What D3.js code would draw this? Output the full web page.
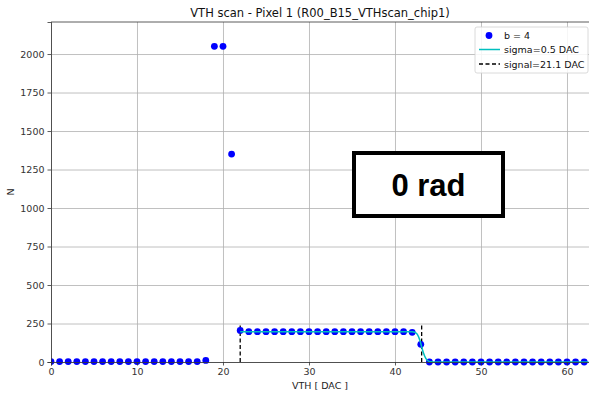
<!DOCTYPE html>
<html>
<head>
<meta charset="utf-8">
<script src="https://cdn.jsdelivr.net/npm/d3@7"></script>
<style>
  body { margin: 0; background: #fff; }
  text { font-family: "DejaVu Sans", sans-serif; }
  .grid line { stroke: #b0b0b0; stroke-width: 0.8; }
  .grid .domain { display: none; }
</style>
</head>
<body>
<div id="container"></div>
<script>
// scan points (VTH in DAC, counts N)
var vth = d3.range(0, 63);
var counts = [3, 3, 3, 3, 3, 3, 3, 3, 3, 3,
              3, 3, 3, 3, 3, 3, 3, 3, 10, 2050,
              2050, 1350, 205, 197, 197, 197, 197, 197, 197, 197,
              197, 197, 197, 197, 197, 197, 197, 197, 197, 197,
              197, 197, 193, 115, 0, 0, 0, 0, 0, 0,
              0, 0, 0, 0, 0, 0, 0, 0, 0, 0,
              0, 0, 0];

// fitted s-curve
var fitX = [22, 42, 42.3, 42.6, 42.9, 43.1, 43.3, 43.6, 43.9, 44.2, 44.5, 62.5];
var fitY = [197, 197, 193, 180, 140, 98, 60, 22, 6, 1, 0, 0];

// signal edges
var edges = [22, 43.1];
var edgeTop = 250;

var xTicks = [0, 10, 20, 30, 40, 50, 60];
var yTicks = [0, 250, 500, 750, 1000, 1250, 1500, 1750, 2000];
var legendLabels = ["b = 4", "sigma=0.5 DAC", "signal=21.1 DAC"];

var margin = {top: 22, right: 0, bottom: 32, left: 51},
    W = 589, H = 394,
    width = W - margin.left - margin.right,
    height = H - margin.top - margin.bottom;

var xScale = d3.scaleLinear().domain([0, 62.56]).range([0, width]);
var yScale = d3.scaleLinear().domain([0, 2208]).range([height, 0]);

var svg = d3.select("#container").append("svg")
    .attr("width", W).attr("height", H);

var g = svg.append("g")
    .attr("transform", "translate(" + margin.left + "," + margin.top + ")");

svg.append("defs").append("clipPath").attr("id", "clip")
  .append("rect").attr("x", 0).attr("y", -5).attr("width", width).attr("height", height + 10);

// grid
g.append("g").attr("class", "grid")
  .attr("transform", "translate(0," + height + ")")
  .call(d3.axisBottom(xScale).tickValues(xTicks).tickSize(-height).tickFormat(""));
g.append("g").attr("class", "grid")
  .call(d3.axisLeft(yScale).tickValues(yTicks).tickSize(-width).tickFormat(""));

var plot = g.append("g").attr("clip-path", "url(#clip)");

// signal edges
plot.selectAll(".edge")
  .data(edges)
  .enter().append("line")
    .attr("class", "edge")
    .attr("x1", function(d) { return xScale(d); })
    .attr("x2", function(d) { return xScale(d); })
    .attr("y1", yScale(0))
    .attr("y2", yScale(edgeTop))
    .attr("stroke", "#000").attr("stroke-width", 1.3)
    .attr("stroke-dasharray", "4,2.5");

// data points
plot.selectAll(".pt")
  .data(vth)
  .enter().append("circle")
    .attr("class", "pt")
    .attr("cx", function(d) { return xScale(d); })
    .attr("cy", function(d, i) { return yScale(counts[i]); })
    .attr("r", 3.4)
    .attr("fill", "#0000ff");

// fit line
var line = d3.line()
  .x(function(d, i) { return xScale(fitX[i]); })
  .y(function(d) { return yScale(d); })
  .curve(d3.curveMonotoneX);
plot.append("path")
  .datum(fitY)
  .attr("d", line)
  .attr("fill", "none")
  .attr("stroke", "#00bfbf")
  .attr("stroke-width", 1.5);

// axes
var xAxis = g.append("g")
  .attr("transform", "translate(0," + height + ")")
  .call(d3.axisBottom(xScale).tickValues(xTicks).tickSize(3.5).tickPadding(3));
var yAxis = g.append("g")
  .call(d3.axisLeft(yScale).tickValues(yTicks).tickFormat(d3.format("d")).tickSize(3.5).tickPadding(3));
[xAxis, yAxis].forEach(function(a) {
  a.selectAll("text").style("font-size", "9.5px").style("font-family", "DejaVu Sans").attr("fill", "#333");
  a.selectAll("line").attr("stroke", "#333").attr("stroke-width", 0.8);
  a.select(".domain").attr("stroke", "#333").attr("stroke-width", 0.8);
});
// top spine
g.append("line").attr("x1", 0).attr("x2", width).attr("y1", 0).attr("y2", 0)
  .attr("stroke", "#333").attr("stroke-width", 0.8);

// labels
svg.append("text")
  .attr("x", margin.left + width / 2).attr("y", 17)
  .attr("text-anchor", "middle").style("font-size", "11.5px").style("fill", "#111")
  .text("VTH scan - Pixel 1 (R00_B15_VTHscan_chip1)");
svg.append("text")
  .attr("x", margin.left + width / 2).attr("y", 389)
  .attr("text-anchor", "middle").style("font-size", "9.5px").style("fill", "#222")
  .text("VTH [ DAC ]");
svg.append("text")
  .attr("transform", "translate(14," + (margin.top + height / 2) + ") rotate(-90)")
  .attr("text-anchor", "middle").style("font-size", "9.5px").style("fill", "#222")
  .text("N");

// "0 rad" box
var bx = 354, by = 153, bw = 149, bh = 63;
svg.append("rect")
  .attr("x", bx).attr("y", by).attr("width", bw).attr("height", bh)
  .attr("fill", "#fff").attr("stroke", "#000").attr("stroke-width", 4);
svg.append("text")
  .attr("x", bx + bw / 2).attr("y", by + bh / 2 + 11)
  .attr("text-anchor", "middle")
  .style("font-family", "'Liberation Sans', Arial, sans-serif")
  .style("font-weight", "bold").style("font-size", "31px")
  .style("fill", "#000")
  .text("0 rad");

// legend
var lg = svg.append("g").attr("transform", "translate(475,27)");
lg.append("rect")
  .attr("width", 113).attr("height", 46).attr("rx", 2)
  .attr("fill", "#fff").attr("fill-opacity", 0.85)
  .attr("stroke", "#d0d0d0").attr("stroke-width", 0.8);
var rowY = [8.5, 22.5, 37];
lg.append("circle").attr("cx", 14).attr("cy", rowY[0]).attr("r", 3.4).attr("fill", "#0000ff");
lg.append("line").attr("x1", 4).attr("x2", 25).attr("y1", rowY[1]).attr("y2", rowY[1])
  .attr("stroke", "#00bfbf").attr("stroke-width", 1.5);
lg.append("line").attr("x1", 4).attr("x2", 25).attr("y1", rowY[2]).attr("y2", rowY[2])
  .attr("stroke", "#000").attr("stroke-width", 1.3).attr("stroke-dasharray", "4,2.5");
lg.selectAll(".lt")
  .data(legendLabels)
  .enter().append("text")
    .attr("class", "lt")
    .attr("x", 29)
    .attr("y", function(d, i) { return rowY[i] + 3.5; })
    .style("font-size", "9.5px").style("fill", "#111")
    .text(function(d) { return d; });
</script>
</body>
</html>
